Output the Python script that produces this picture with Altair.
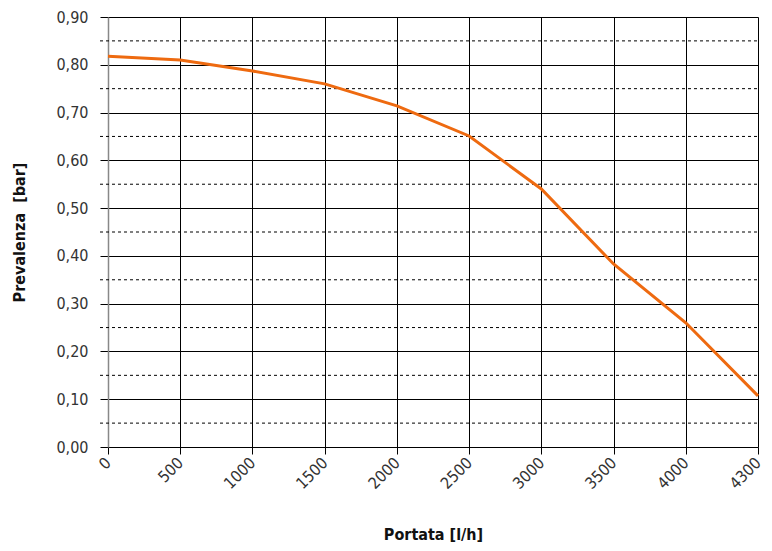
import altair as alt
import pandas as pd

portata = ["0", "500", "1000", "1500", "2000", "2500", "3000", "3500", "4000", "4300"]
prevalenza = [0.818, 0.810, 0.787, 0.760, 0.714, 0.651, 0.540, 0.383, 0.260, 0.107]
minor_ticks = [0.05, 0.15, 0.25, 0.35, 0.45, 0.55, 0.65, 0.75, 0.85]
major_ticks = [0.0, 0.1, 0.2, 0.3, 0.4, 0.5, 0.6, 0.7, 0.8, 0.9]

df = pd.DataFrame({"portata": portata, "prevalenza": prevalenza})
dminor = pd.DataFrame({"v": minor_ticks})

FONT = "DejaVu Sans Condensed, Roboto, sans-serif"
W, H = 650, 430

yscale = alt.Scale(domain=[0, 0.9], nice=False)

line = alt.Chart(df).mark_line(color="#EE6A10", strokeWidth=3).encode(
    x=alt.X(
        "portata:O", sort=portata,
        scale=alt.Scale(type="point", padding=0),
        axis=alt.Axis(
            title="Portata [l/h]", labelAngle=-45, labelAlign="right", labelBaseline="middle",
            labelFont=FONT, labelFontSize=16, labelColor="#333",
            titleFont=FONT, titleFontSize=16, titleFontWeight="bold", titleColor="#111",
            titlePadding=35,
            grid=True, gridColor="#000", gridWidth=1,
            domain=False, tickColor="#000", tickSize=7, labelPadding=6,
        ),
    ),
    y=alt.Y(
        "prevalenza:Q", scale=yscale,
        axis=alt.Axis(
            title="Prevalenza\u00a0 [bar]", values=major_ticks,
            labelExpr="replace(format(datum.value, '.2f'), '.', ',')",
            labelFont=FONT, labelFontSize=16, labelColor="#333",
            titleFont=FONT, titleFontSize=16, titleFontWeight="bold", titleColor="#111",
            titlePadding=28,
            grid=True, gridColor="#000", gridWidth=1,
            domain=True, domainColor="#888", domainWidth=1.5,
            tickColor="#000", tickSize=8, labelPadding=12,
        ),
    ),
)

minor = alt.Chart(dminor).mark_rule(color="#000", strokeWidth=1, strokeDash=[3, 3]).encode(
    y=alt.Y("v:Q", scale=yscale, axis=None),
    x=alt.value(-8),
    x2=alt.value(W),
)

chart = alt.layer(minor, line).resolve_axis(y="independent").properties(
    width=W, height=H,
    autosize=alt.AutoSizeParams(type="none"),
    padding={"left": 100, "top": 9, "right": 6, "bottom": 96},
).configure(background="white").configure_view(stroke=None)

chart.save("out.html", embed_options={"renderer": "svg", "actions": False})
